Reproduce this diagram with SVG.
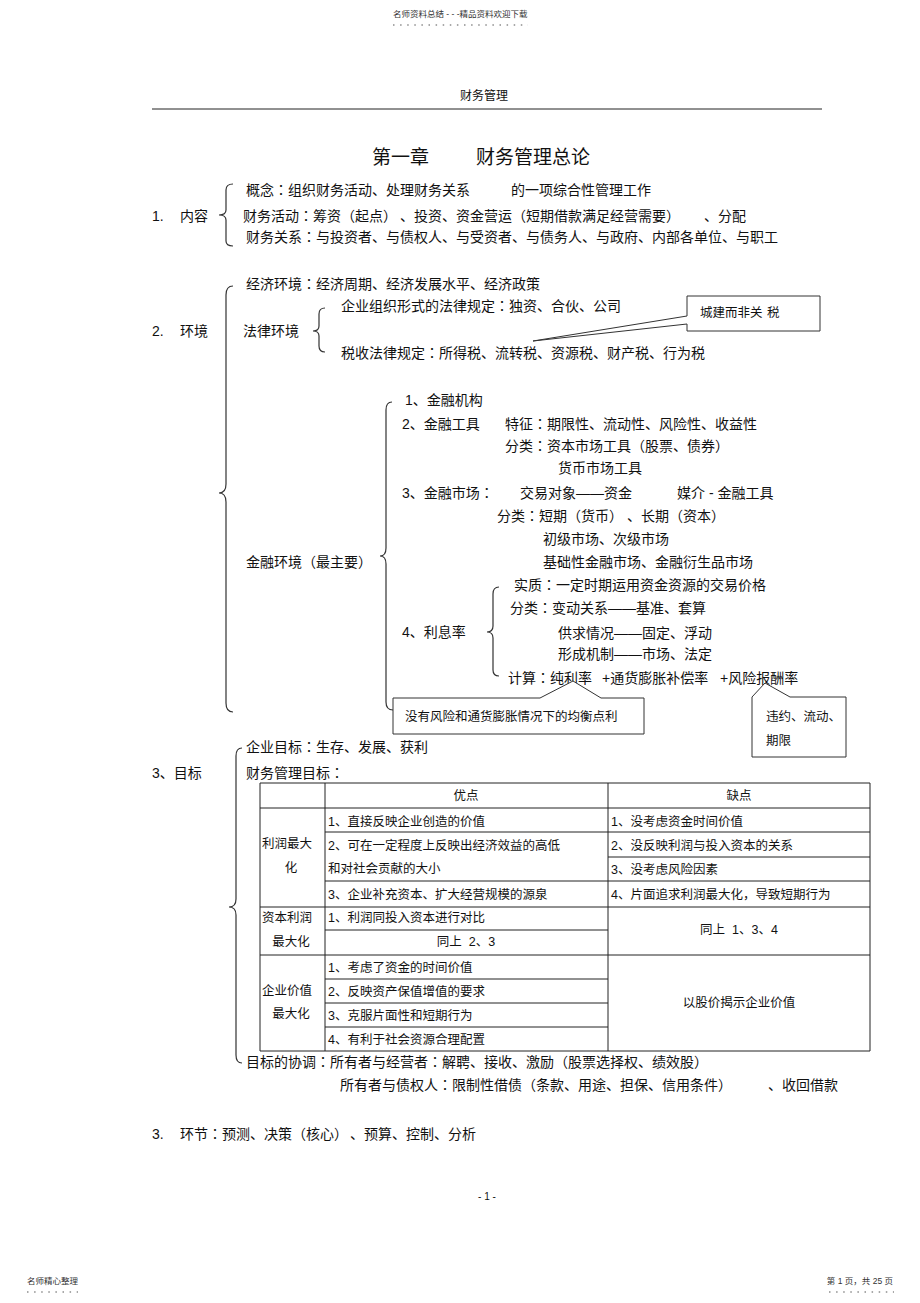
<svg xmlns="http://www.w3.org/2000/svg" width="920" height="1303" viewBox="0 0 920 1303">
<style>
text{font-family:'Liberation Sans','Noto Sans CJK SC',sans-serif;fill:#111;white-space:pre}
.t{font-size:14px}
.s{font-size:12.5px}
.h{font-size:8.5px;fill:#333}
.m{text-anchor:middle}
.c{font-family:'Noto Sans CJK JP','Noto Sans CJK TC',sans-serif}
.br{fill:none;stroke:#333;stroke-width:1.2}
.ln{stroke:#222;stroke-width:1;fill:none}
.co{fill:#fff;stroke:#333;stroke-width:1}
.dot{stroke:#555;stroke-width:1.2;stroke-dasharray:1.5 5.6}
</style>
<rect width="920" height="1303" fill="#fff"/>
<g id="page-header">
<text class="h" x="393" y="17">名师资料总结 - - -精品资料欢迎下载</text>
<line class="dot" x1="393" y1="25" x2="528" y2="25"/>
<text x="484" y="100" class="m" style="font-size:12px">财务管理</text>
<line class="ln" x1="152" y1="109" x2="822" y2="109"/>
</g>
<g id="title">
<text x="372" y="164" style="font-size:19px">第一章</text>
<text x="476" y="164" style="font-size:19px">财务管理总论</text>
</g>
<g id="connectors">
<path class="br" d="M233,184 Q226,184 226,190 L226,210 Q226,215 219,215 Q226,215 226,220 L226,241 Q226,246 233,246"/>
<path class="br" d="M233,286 Q226,286 226,295 L226,484 Q226,493 219,493 Q226,493 226,502 L226,703 Q226,712 233,712"/>
<path class="br" d="M325,308 Q319,308 319,314 L319,326 Q319,331 313,331 Q319,331 319,336 L319,346 Q319,352 325,352"/>
<path class="br" d="M392,402 Q386,402 386,410 L386,548 Q386,556 380,556 Q386,556 386,564 L386,702 Q386,710 393,710"/>
<path class="br" d="M499,587 Q493,587 493,594 L493,626 Q493,632 487,632 Q493,632 493,638 L493,670 Q493,676 499,676"/>
<path class="br" d="M242,748 Q236,748 236,756 L236,899 Q236,907 229,907 Q236,907 236,915 L236,1055 Q236,1063 242,1063"/>
</g>
<g id="sec1">
<text class="t" x="152" y="221">1.</text>
<text class="t" x="180" y="221">内容</text>
<text class="t" x="246" y="195">概念<tspan class="c">：</tspan>组织财务活动、处理财务关系</text>
<text class="t" x="511" y="195">的一项综合性管理工作</text>
<text class="t" x="243" y="221">财务活动<tspan class="c">：</tspan>筹资（起点）</text>
<text class="t" x="400" y="221">、投资、资金营运（短期借款满足经营需要）</text>
<text class="t" x="704" y="221">、分配</text>
<text class="t" x="246" y="242">财务关系<tspan class="c">：</tspan>与投资者、与债权人、与受资者、与债务人、与政府、内部各单位、与职工</text>
</g>
<g id="sec2">
<text class="t" x="152" y="336">2.</text>
<text class="t" x="180" y="336">环境</text>
<text class="t" x="246" y="289">经济环境<tspan class="c">：</tspan>经济周期、经济发展水平、经济政策</text>
<text class="t" x="243" y="336">法律环境</text>
<text class="t" x="341" y="311">企业组织形式的法律规定<tspan class="c">：</tspan>独资、合伙、公司</text>
<text class="t" x="341" y="358">税收法律规定<tspan class="c">：</tspan>所得税、流转税、资源税、财产税、行为税</text>
</g>
<g id="callout-tax">
<path class="co" d="M687,296 L820,296 L820,331 L687,331 L687,324 L533,341 L687,316 Z"/>
<text class="s" x="700" y="317">城建而非关</text>
<text class="s" x="767" y="317">税</text>
</g>
<g id="finance">
<text class="t" x="246" y="567">金融环境（最主要）</text>
<text class="t" x="405" y="405">1、金融机构</text>
<text class="t" x="402" y="429">2、金融工具</text>
<text class="t" x="505" y="429">特征<tspan class="c">：</tspan>期限性、流动性、风险性、收益性</text>
<text class="t" x="505" y="451">分类<tspan class="c">：</tspan>资本市场工具（股票、债券）</text>
<text class="t" x="558" y="473">货币市场工具</text>
<text class="t" x="402" y="498">3、金融市场<tspan class="c">：</tspan></text>
<text class="t" x="520" y="498">交易对象——资金</text>
<text class="t" x="677" y="498">媒介 - 金融工具</text>
<text class="t" x="497" y="521">分类<tspan class="c">：</tspan>短期（货币）</text>
<text class="t" x="627" y="521">、长期（资本）</text>
<text class="t" x="543" y="544">初级市场、次级市场</text>
<text class="t" x="543" y="567">基础性金融市场、金融衍生品市场</text>
</g>
<g id="interest">
<text class="t" x="402" y="637">4、利息率</text>
<text class="t" x="514" y="590">实质<tspan class="c">：</tspan>一定时期运用资金资源的交易价格</text>
<text class="t" x="510" y="613">分类<tspan class="c">：</tspan>变动关系——基准、套算</text>
<text class="t" x="558" y="638">供求情况——固定、浮动</text>
<text class="t" x="558" y="659">形成机制——市场、法定</text>
<text class="t" x="508" y="683">计算<tspan class="c">：</tspan>纯利率</text>
<text class="t" x="602" y="683">+通货膨胀补偿率</text>
<text class="t" x="720" y="683">+风险报酬率</text>
</g>
<g id="callout-pure">
<path class="co" d="M393,698 L540,698 L573,681 L601,698 L644,698 L644,734 L393,734 Z"/>
<text class="s" x="405" y="721">没有风险和通货膨胀情况下的均衡点利</text>
</g>
<g id="callout-risk">
<path class="co" d="M752,697 L765,683 L790,697 L846,697 L846,757 L752,757 Z"/>
<text class="s" x="766" y="721">违约、流动、</text>
<text class="s" x="766" y="745">期限</text>
</g>
<g id="sec3">
<text class="t" x="152" y="778">3、目标</text>
<text class="t" x="246" y="752">企业目标<tspan class="c">：</tspan>生存、发展、获利</text>
<text class="t" x="246" y="778">财务管理目标<tspan class="c">：</tspan></text>
</g>
<g id="table">
<path class="ln" d="M260,783 H870 M260,808 H870 M260,907 H870 M260,955 H870 M260,1051 H870 M260,783 V1051 M325,783 V1051 M608,783 V1051 M870,783 V1051 M325,832 H870 M325,881 H870 M608,857 H870 M325,930 H608 M325,979 H608 M325,1003 H608 M325,1027 H608"/>
<text class="s m" x="466" y="799.5">优点</text>
<text class="s m" x="739" y="799.5">缺点</text>
<text class="s" x="262" y="847.5">利润最大</text>
<text class="s m" x="291" y="871.5">化</text>
<text class="s" x="328" y="825.5">1、直接反映企业创造的价值</text>
<text class="s" x="328" y="849.5">2、可在一定程度上反映出经济效益的高低</text>
<text class="s" x="328" y="872.5">和对社会贡献的大小</text>
<text class="s" x="328" y="898.5">3、企业补充资本、扩大经营规模的源泉</text>
<text class="s" x="611" y="825.5">1、没考虑资金时间价值</text>
<text class="s" x="611" y="849.5">2、没反映利润与投入资本的关系</text>
<text class="s" x="611" y="873.5">3、没考虑风险因素</text>
<text class="s" x="611" y="898.5">4、片面追求利润最大化，导致短期行为</text>
<text class="s" x="262" y="921.5">资本利润</text>
<text class="s m" x="291" y="945.5">最大化</text>
<text class="s" x="328" y="921.5">1、利润同投入资本进行对比</text>
<text class="s m" x="466" y="945.5">同上  2、3</text>
<text class="s m" x="739" y="933.5">同上  1、3、4</text>
<text class="s" x="262" y="994.5">企业价值</text>
<text class="s m" x="291" y="1017.5">最大化</text>
<text class="s" x="328" y="971.5">1、考虑了资金的时间价值</text>
<text class="s" x="328" y="995.5">2、反映资产保值增值的要求</text>
<text class="s" x="328" y="1019.5">3、克服片面性和短期行为</text>
<text class="s" x="328" y="1043.5">4、有利于社会资源合理配置</text>
<text class="s m" x="739" y="1006.5">以股价揭示企业价值</text>
</g>
<g id="coordination">
<text class="t" x="246" y="1067">目标的协调<tspan class="c">：</tspan>所有者与经营者<tspan class="c">：</tspan>解聘、接收、激励（股票选择权、绩效股）</text>
<text class="t" x="340" y="1090">所有者与债权人<tspan class="c">：</tspan>限制性借债（条款、用途、担保、信用条件）</text>
<text class="t" x="768" y="1090">、收回借款</text>
</g>
<g id="sec4">
<text class="t" x="152" y="1139">3.</text>
<text class="t" x="180" y="1139">环节<tspan class="c">：</tspan>预测、决策（核心）</text>
<text class="t" x="350" y="1139">、预算、控制、分析</text>
</g>
<g id="page-footer">
<text x="487" y="1200" class="m" style="font-size:10px">- 1 -</text>
<text class="h" x="27" y="1284">名师精心整理</text>
<line class="dot" x1="27" y1="1292" x2="78" y2="1292"/>
<text class="h" x="893" y="1284" style="text-anchor:end">第 1 页，共 25 页</text>
<line class="dot" x1="829" y1="1292" x2="894" y2="1292"/>
</g>
</svg>
